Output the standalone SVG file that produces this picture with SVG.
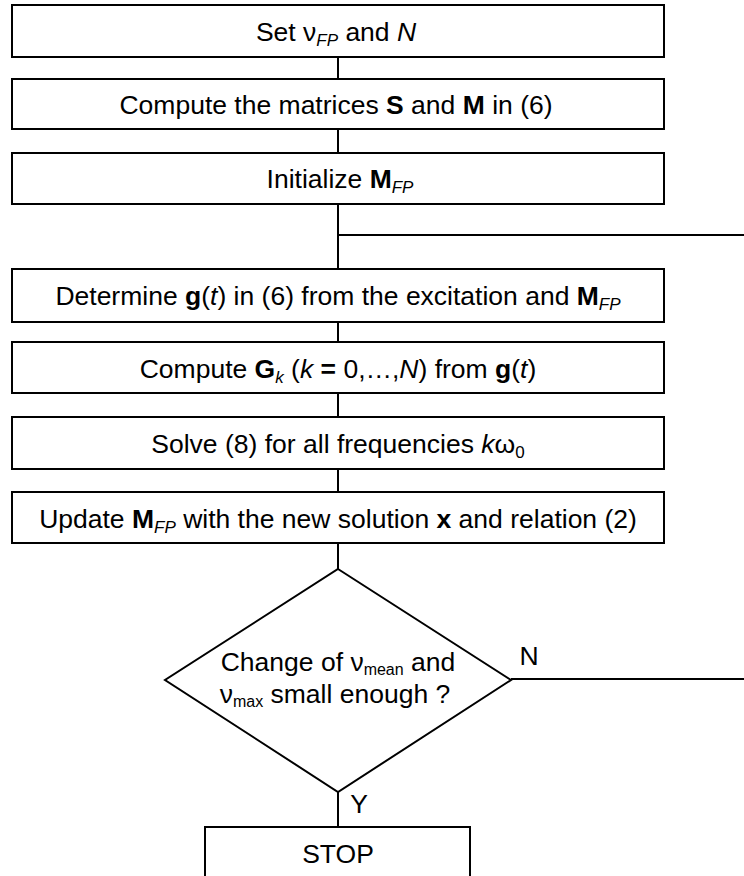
<svg xmlns="http://www.w3.org/2000/svg" width="744" height="876" viewBox="0 0 744 876">
<style>
.box{fill:#fff;stroke:#000;stroke-width:2}
.ln{fill:none;stroke:#000;stroke-width:2}
text{font-family:"Liberation Sans",Arial,sans-serif;font-size:26.5px;fill:#000;text-anchor:middle}
.b{font-weight:bold}
.i{font-style:italic}
.s{font-size:17px}
.ss{font-size:16px}
</style>
<rect width="744" height="876" fill="#fff"/>
<g id="connectors">
<line class="ln" x1="338" y1="57" x2="338" y2="79"/>
<line class="ln" x1="338" y1="129" x2="338" y2="153"/>
<line class="ln" x1="338" y1="204" x2="338" y2="269"/>
<line class="ln" x1="338" y1="235" x2="744" y2="235"/>
<line class="ln" x1="338" y1="322" x2="338" y2="342"/>
<line class="ln" x1="338" y1="393" x2="338" y2="417"/>
<line class="ln" x1="338" y1="469" x2="338" y2="492"/>
<line class="ln" x1="338" y1="543" x2="338" y2="569"/>
<line class="ln" x1="511" y1="679" x2="744" y2="679"/>
<line class="ln" x1="338" y1="792" x2="338" y2="827"/>
<text x="529" y="665">N</text>
<text x="359" y="813">Y</text>
</g>
<g id="n1">
<rect class="box" x="12" y="5" width="652" height="52"/>
<text x="336" y="41">Set ν<tspan class="i s" dy="5">FP</tspan><tspan dy="-5"> and </tspan><tspan class="i">N</tspan></text>
</g>
<g id="n2">
<rect class="box" x="12" y="79" width="652" height="50"/>
<text x="336" y="114">Compute the matrices <tspan class="b">S</tspan> and <tspan class="b">M</tspan> in (6)</text>
</g>
<g id="n3">
<rect class="box" x="12" y="153" width="652" height="51"/>
<text x="340" y="188">Initialize <tspan class="b">M</tspan><tspan class="i s" dy="5">FP</tspan></text>
</g>
<g id="n4">
<rect class="box" x="12" y="269" width="652" height="53"/>
<text x="338" y="305">Determine <tspan class="b">g</tspan>(<tspan class="i">t</tspan>) in (6) from the excitation and <tspan class="b">M</tspan><tspan class="i s" dy="5">FP</tspan></text>
</g>
<g id="n5">
<rect class="box" x="12" y="342" width="652" height="51"/>
<text x="338" y="378">Compute <tspan class="b">G</tspan><tspan class="i s" dy="5">k</tspan><tspan dy="-5"> (</tspan><tspan class="i">k</tspan> <tspan class="b">=</tspan> 0,…,<tspan class="i">N</tspan>) from <tspan class="b">g</tspan>(<tspan class="i">t</tspan>)</text>
</g>
<g id="n6">
<rect class="box" x="12" y="417" width="652" height="52"/>
<text x="338" y="453">Solve (8) for all frequencies <tspan class="i">k</tspan>ω<tspan class="s" dy="5">0</tspan></text>
</g>
<g id="n7">
<rect class="box" x="12" y="492" width="652" height="51"/>
<text x="338" y="528">Update <tspan class="b">M</tspan><tspan class="i s" dy="5">FP</tspan><tspan dy="-5"> with the new solution </tspan><tspan class="b">x</tspan> and relation (2)</text>
</g>
<g id="n8">
<polygon class="box" points="338,569 511,680 338,792 165,680"/>
<text x="338" y="671">Change of ν<tspan class="ss" dy="4">mean</tspan><tspan dy="-4"> and</tspan></text>
<text x="335" y="703">ν<tspan class="ss" dy="4">max</tspan><tspan dy="-4"> small enough ?</tspan></text>
</g>
<g id="n9">
<rect class="box" x="205" y="827" width="265" height="60"/>
<text x="338" y="863">STOP</text>
</g>
</svg>
